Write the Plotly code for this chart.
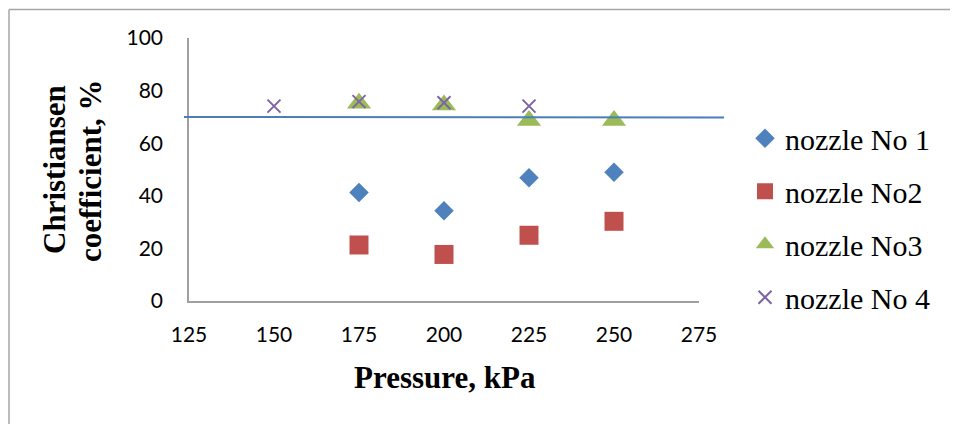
import plotly.graph_objects as go

# Data
pressure_1 = [175, 200, 225, 250]
nozzle_1 = [41.3, 34.3, 46.9, 49.0]
pressure_2 = [175, 200, 225, 250]
nozzle_2 = [21.3, 17.7, 25.0, 30.3]
pressure_3 = [175, 200, 225, 250]
nozzle_3 = [75.2, 74.5, 68.6, 68.6]
pressure_4 = [150, 175, 200, 225]
nozzle_4 = [74.1, 75.8, 75.4, 74.1]
ref_line = [70.0, 69.8]
x_ticks = [125, 150, 175, 200, 225, 250, 275]
y_ticks = [0, 20, 40, 60, 80, 100]

OFF = 8  # page body offset
L, R, T, B = 189 - OFF, 699 - OFF, 37.5 - OFF, 301.5 - OFF
W, H = R - L, B - T


def px(xp):
    return (xp - OFF - L) / W


def py(yp):
    return (B - (yp - OFF)) / H


fig = go.Figure()

series = [
    ("nozzle No 1", pressure_1, nozzle_1, dict(symbol="diamond", size=15, color="#4F81BD")),
    ("nozzle No2", pressure_2, nozzle_2, dict(symbol="square", size=19, color="#C0504D")),
    ("nozzle No3", pressure_3, nozzle_3, dict(symbol="triangle-up", size=21, color="#9BBB59")),
    ("nozzle No 4", pressure_4, nozzle_4, dict(symbol="x-thin-open", size=13, color="#8064A2",
                                               line=dict(width=2, color="#8064A2"))),
]
for i, (name, xs, ys, mk) in enumerate(series):
    fig.add_trace(go.Scatter(x=xs, y=ys, mode="markers", name=name, marker=mk,
                             legendgroup=f"g{i}"))

# Reference horizontal line
fig.add_shape(type="line", xref="paper", yref="y", x0=px(184), x1=px(724),
              y0=ref_line[0], y1=ref_line[1], line=dict(color="#4A7EBB", width=2))

# Outer chart border (top and left), just inside the figure edge
edge_x = -L / W + 1.0 / W
edge_y = 1 + T / H - 1.0 / H
fig.add_shape(type="line", xref="paper", yref="paper",
              x0=edge_x, x1=px(975), y0=edge_y, y1=edge_y,
              line=dict(color="#A6A6A6", width=1.5))
fig.add_shape(type="line", xref="paper", yref="paper",
              x0=edge_x, x1=edge_x, y0=edge_y, y1=py(440),
              line=dict(color="#A6A6A6", width=1.5))

tickfont = dict(family="Lato, Open Sans, sans-serif", size=21, color="#000000")
fig.update_xaxes(range=[125, 275], tickvals=x_ticks, showgrid=False, zeroline=False,
                 showline=True, linecolor="#A0A0A0", linewidth=1.5, ticks="",
                 tickfont=tickfont, ticklabelstandoff=14)
fig.update_yaxes(range=[0, 100], tickvals=y_ticks, showgrid=False, zeroline=False,
                 showline=True, linecolor="#A0A0A0", linewidth=1.5, ticks="",
                 tickfont=tickfont, ticklabelstandoff=20)

serif_b = dict(family="Liberation Serif, Times New Roman, serif", size=31, color="#000")
fig.add_annotation(text="<b>Christiansen</b>", xref="paper", yref="paper",
                   x=px(55), y=py(170), textangle=-90, showarrow=False,
                   font=serif_b, xanchor="center", yanchor="middle")
fig.add_annotation(text="<b>coefficient, %</b>", xref="paper", yref="paper",
                   x=px(91), y=py(171), textangle=-90, showarrow=False,
                   font=serif_b, xanchor="center", yanchor="middle")
fig.add_annotation(text="<b>Pressure, kPa</b>", xref="paper", yref="paper",
                   x=px(445), y=py(378), showarrow=False,
                   font=dict(family="Liberation Serif, Times New Roman, serif", size=31, color="#000"),
                   xanchor="center", yanchor="middle")

fig.update_layout(
    width=958, height=424,
    margin=dict(l=L, r=958 - R, t=T, b=424 - B),
    paper_bgcolor="white", plot_bgcolor="white",
    showlegend=True,
    legend=dict(x=px(745), y=py(112), xanchor="left", yanchor="top",
                font=dict(family="Liberation Serif, Times New Roman, serif", size=30, color="#000"),
                tracegroupgap=11, bgcolor="rgba(0,0,0,0)"),
)

fig.write_html("out.html")
